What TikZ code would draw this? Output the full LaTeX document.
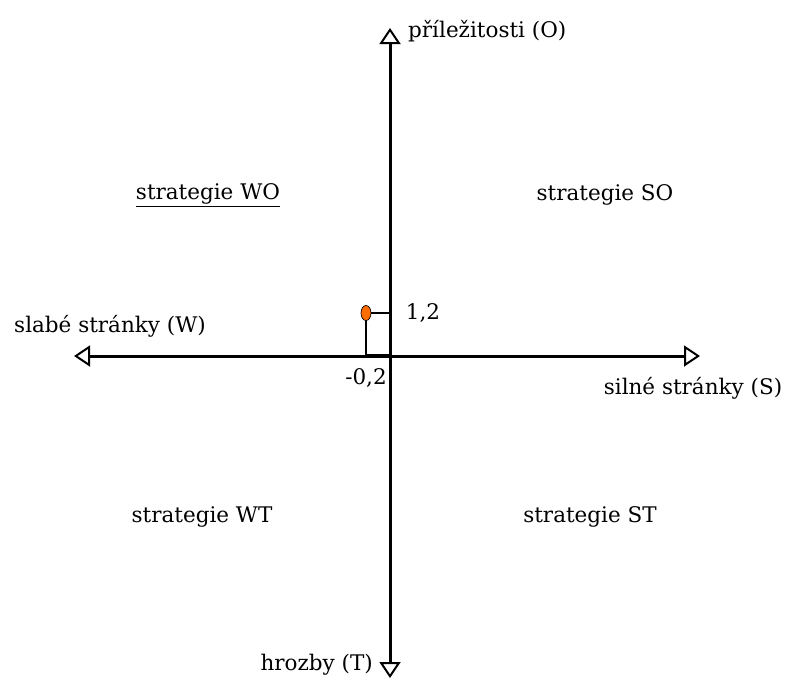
\documentclass[tikz,border=0pt]{standalone}
\usepackage{fontspec}
\setmainfont{DejaVu Serif}
\usetikzlibrary{arrows.meta,shapes.geometric}

\begin{document}
\begin{tikzpicture}[
  x=1pt, y=-1pt,
  font=\fontsize{21.5}{25}\selectfont,
  axis/.style={line width=3pt, -{Triangle[open, length=16pt, width=21pt, line width=2pt]}},
  quad/.style={inner sep=0pt, anchor=center},
  lbl/.style={inner sep=0pt},
]
\useasboundingbox (0,0) rectangle (787,680);
% ---- axes ----
\coordinate (c) at (390,356);
\coordinate (oend) at (390,28);
\coordinate (tend) at (390,678);
\coordinate (wend) at (74,356);
\coordinate (send) at (700,356);
\draw[axis] (c) -- (oend);
\draw[axis] (c) -- (tend);
\draw[axis] (c) -- (wend);
\draw[axis] (c) -- (send);
% ---- axis labels ----
\node[lbl, anchor=west] (o) at (408,31) {příležitosti (O)};
\node[lbl, anchor=east] (t) at (373,665) {hrozby (T)};
\node[lbl] (w) at (110,326) {slabé stránky (W)};
\node[lbl] (s) at (693,388) {silné stránky (S)};
% ---- quadrants ----
\node[quad] (wo) at (208,195) {\underline{strategie WO}};
\node[quad] (so) at (605,195) {strategie SO};
\node[quad] (wt) at (202,517) {strategie WT};
\node[quad] (st) at (590,517) {strategie ST};
% ---- position ----
\coordinate (p) at (366,313);
\draw[line width=2pt] (p) rectangle (c);
\draw[line width=3.5pt] (p |- c) -- (c);
\node[draw=black, fill=orange!85!red, ellipse, minimum width=10pt, minimum height=15pt,
      inner sep=0pt, line width=0.7pt] (pt) at (p) {};
\node[lbl] (vy) at (423,313) {1,2};
\node[lbl] (vx) at (366,378) {-0,2};
\end{tikzpicture}
\end{document}
